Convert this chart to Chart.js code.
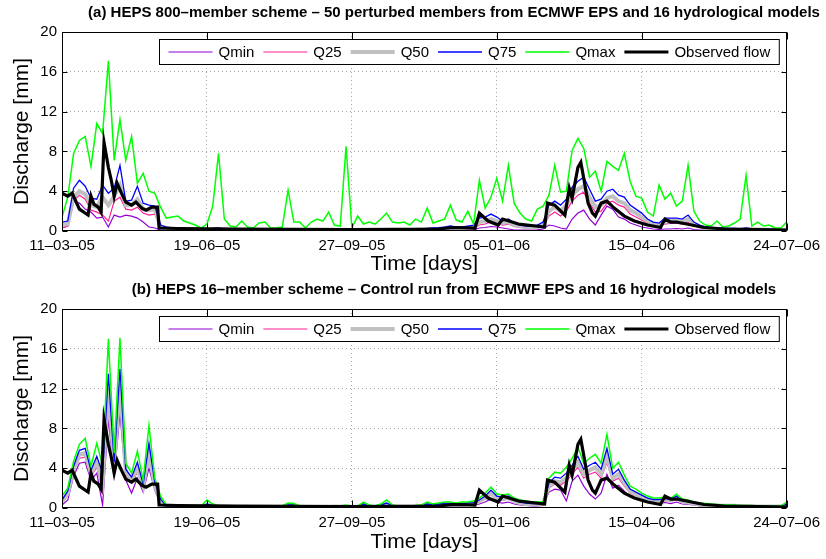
<!DOCTYPE html>
<html lang="en">
<head>
  <meta charset="UTF-8" />
  <title>HEPS discharge ensembles</title>
  <script src="https://cdn.jsdelivr.net/npm/chart.js@4.4.1/dist/chart.umd.min.js"></script>
  <style>
    * { margin: 0; padding: 0; }
    body { background: #fff; width: 826px; height: 559px; overflow: hidden; }
    canvas { display: block; }
  </style>
</head>
<body>
  <canvas id="chartA" width="826" height="277"></canvas>
  <canvas id="chartB" width="826" height="282"></canvas>

  <script>
    // ---- data -------------------------------------------------------
    const titleA = '(a) HEPS 800–member scheme – 50 perturbed members from ECMWF EPS and 16 hydrological models';
    const titleB = '(b) HEPS 16–member scheme – Control run from ECMWF EPS and 16 hydrological models';
    const seriesNames = ['Qmin', 'Q25', 'Q50', 'Q75', 'Qmax', 'Observed flow'];
    const tickDays = [0, 100, 200, 300, 400, 500];
    const dateTicks = ['11–03–05', '19–06–05', '27–09–05', '05–01–06', '15–04–06', '24–07–06'];
    const yTicks = [0, 4, 8, 12, 16, 20];
    const STEP = 4; // days between ensemble values (day 0 = 11-03-05)

    // observed flow (same in both panels), irregular days
    const obsDays = [0,4,7,12,18,20,22,25,27,29, 32,34,36,38,41,44,48,51,55,58,
      62,66,67,80,120,200,260,270,285,288, 294,301,304,315,333,335,340,347,350,352,
      356,358,360,363,366,368,372,376,381,388, 395,404,413,416,420,424,431,443,457,480, 500];
    const obsVals = [3.8,3.5,3.8,2.2,1.6,3.5,2.7,2.4,1.9,8.9, 6.4,5.1,3.5,4.8,3.8,2.9,2.6,2.9,2.3,2.1,
      2.4,2.4,0.3,0.25,0.2,0.15,0.2,0.35,0.3,1.8, 1.0,0.6,1.2,0.7,0.4,2.8,2.6,1.6,4.3,3.3,
      6.4,6.9,5.3,2.8,1.8,1.5,2.8,3.0,2.3,1.5, 1.0,0.6,0.35,1.2,0.9,0.9,0.7,0.35,0.2,0.15, 0.1];

    // panel (a): 800-member scheme
    const qminA = [0.3,0.5,3.0,2.8,2.2,1.9,1.3,1.4,0.4,1.6, 1.4,1.6,1.5,1.3,0.9,0.4,0.3,0.1,0.05,0.05,
      0.04,0.04,0.03,0.03,0.03,0.03,0.03,0.04,0.03,0.03, 0.02,0.02,0.02,0.02,0.02,0.02,0.02,0.02,0.02,0.02,
      0.02,0.02,0.02,0.02,0.02,0.02,0.02,0.02,0.02,0.03, 0.02,0.02,0.02,0.02,0.02,0.02,0.02,0.02,0.02,0.02,
      0.03,0.03,0.04,0.05,0.06,0.07,0.08,0.1,0.08,0.08, 0.1,0.12,0.3,0.35,0.45,0.4,0.3,0.2,0.1,0.08,
      0.1,0.1,0.12,0.2,0.6,0.5,0.3,0.2,1.2,1.8, 2.1,1.2,0.6,1.6,2.5,2.2,1.4,1.2,0.8,0.6,
      0.4,0.3,0.2,0.15,0.2,0.2,0.25,0.2,0.3,0.15, 0.1,0.08,0.06,0.05,0.05,0.05,0.04,0.04,0.05,0.04,
      0.04,0.03,0.03,0.03,0.03,0.03];
    const q25A = [0.3,0.5,3.0,3.6,3.2,2.1,1.9,1.6,1.0,3.0, 3.4,2.2,2.1,2.4,1.8,1.6,1.7,0.3,0.2,0.15,
      0.15,0.12,0.1,0.1,0.08,0.08,0.1,0.12,0.1,0.08, 0.07,0.07,0.06,0.06,0.06,0.06,0.06,0.06,0.06,0.07,
      0.06,0.06,0.06,0.06,0.06,0.06,0.06,0.06,0.06,0.08, 0.06,0.06,0.06,0.06,0.06,0.06,0.06,0.06,0.06,0.06,
      0.07,0.08,0.1,0.12,0.14,0.16,0.2,0.25,0.2,0.2, 0.25,0.3,0.6,0.7,0.9,0.8,0.6,0.7,0.45,0.35,
      0.3,0.25,0.3,0.45,1.5,1.9,1.5,2.0,3.0,3.6, 3.9,2.8,1.9,2.0,2.8,3.0,2.6,2.4,1.7,1.4,
      1.1,0.8,0.55,0.5,0.7,0.8,0.8,0.7,0.9,0.5, 0.35,0.25,0.2,0.15,0.15,0.12,0.12,0.1,0.12,0.1,
      0.1,0.08,0.08,0.08,0.07,0.07];
    const q50A = [0.6,0.7,3.4,4.0,3.7,2.6,2.4,3.4,2.6,3.5, 4.6,2.6,2.6,3.2,2.2,2.1,2.2,0.4,0.3,0.2,
      0.2,0.18,0.15,0.15,0.12,0.12,0.15,0.2,0.15,0.12, 0.1,0.1,0.1,0.08,0.08,0.08,0.08,0.08,0.08,0.1,
      0.08,0.08,0.08,0.08,0.08,0.08,0.08,0.08,0.08,0.12, 0.08,0.08,0.08,0.08,0.08,0.08,0.08,0.08,0.08,0.08,
      0.1,0.12,0.15,0.18,0.2,0.22,0.3,0.35,0.3,0.3, 0.35,0.4,0.9,1.0,1.2,1.0,0.8,0.9,0.6,0.5,
      0.4,0.35,0.4,0.6,2.0,2.4,2.0,2.6,3.6,4.2, 4.5,3.4,2.4,2.6,3.3,3.5,3.0,2.8,2.1,1.8,
      1.4,1.0,0.7,0.6,0.9,1.0,1.0,0.9,1.2,0.7, 0.45,0.3,0.25,0.2,0.2,0.18,0.18,0.15,0.2,0.15,
      0.15,0.12,0.12,0.12,0.1,0.1];
    const q75A = [0.9,1.0,4.3,5.1,4.5,3.3,3.2,4.6,3.8,4.3, 6.6,3.0,3.1,4.5,2.8,2.6,2.5,0.6,0.4,0.3,
      0.3,0.25,0.2,0.2,0.15,0.15,0.25,0.3,0.2,0.15, 0.15,0.12,0.12,0.1,0.1,0.1,0.1,0.1,0.1,0.15,
      0.1,0.1,0.1,0.1,0.1,0.1,0.12,0.1,0.1,0.2, 0.1,0.1,0.1,0.1,0.1,0.1,0.12,0.12,0.12,0.12,
      0.12,0.15,0.2,0.25,0.3,0.3,0.4,0.5,0.4,0.4, 0.5,0.6,1.3,1.4,1.7,1.4,1.0,1.2,0.8,0.6,
      0.5,0.5,0.6,0.9,2.6,3.0,2.6,3.2,4.4,5.0, 5.4,4.2,3.0,3.2,4.0,4.2,3.6,3.4,2.6,2.2,
      1.8,1.2,0.9,0.8,1.3,1.3,1.3,1.2,1.6,0.9, 0.6,0.4,0.35,0.3,0.3,0.25,0.25,0.2,0.3,0.2,
      0.2,0.15,0.15,0.15,0.12,0.12];
    const qmaxA = [1.4,3.4,7.8,9.1,9.5,6.5,10.8,9.8,17.1,7.1, 11.2,7.1,9.5,4.8,5.8,4.0,3.8,2.4,1.3,1.4,
      1.5,1.0,0.8,0.6,0.3,0.7,2.5,7.8,1.2,0.5, 0.4,1.0,0.4,0.3,0.8,0.9,0.3,0.3,0.4,4.1,
      0.9,0.9,0.3,0.9,1.2,1.0,1.9,0.6,0.5,8.5, 0.3,1.5,0.7,0.9,0.7,1.2,1.8,0.9,0.8,0.9,
      0.6,1.2,0.9,2.3,0.8,1.0,1.2,2.6,1.1,0.9, 2.0,0.7,5.1,2.3,3.4,5.3,3.0,6.6,2.8,1.8,
      1.2,1.0,2.2,2.5,3.6,6.6,3.9,4.0,8.1,9.3, 8.3,5.4,6.0,4.0,7.0,6.5,6.1,7.8,5.0,3.5,
      3.3,1.9,1.5,4.6,3.2,3.8,2.5,3.0,6.6,2.0, 1.0,0.6,0.5,1.0,0.4,0.5,0.8,1.2,5.6,0.5,
      0.9,0.5,0.6,0.3,0.3,0.9];

    // panel (b): 16-member scheme
    const qminB = [0.3,0.8,3.2,4.5,4.6,2.8,3.5,0.3,9.0,3.2, 9.5,2.8,1.5,3.0,1.6,4.0,1.8,0.4,0.1,0.1,
      0.08,0.07,0.07,0.07,0.07,0.15,0.1,0.07,0.07,0.05, 0.05,0.05,0.05,0.05,0.05,0.05,0.05,0.05,0.06,0.1,
      0.1,0.06,0.05,0.05,0.05,0.05,0.05,0.06,0.06,0.08, 0.06,0.06,0.15,0.08,0.06,0.1,0.15,0.08,0.06,0.06,
      0.06,0.08,0.1,0.15,0.12,0.15,0.2,0.2,0.15,0.2, 0.25,0.3,0.4,0.6,0.9,0.6,0.5,0.6,0.4,0.3,
      0.25,0.2,0.2,0.25,1.6,1.9,1.8,0.7,2.7,3.3, 2.2,1.4,0.9,1.5,3.4,2.0,2.3,1.7,1.1,0.9,
      0.7,0.55,0.45,0.45,0.55,0.45,0.6,0.4,0.35,0.3, 0.2,0.18,0.16,0.14,0.13,0.13,0.13,0.1,0.1,0.1,
      0.1,0.1,0.1,0.1,0.1,0.15];
    const q25B = [0.5,1.3,3.6,5.0,5.1,3.2,4.1,1.8,11.0,3.8, 11.5,3.3,2.5,3.6,2.0,5.0,2.1,0.6,0.12,0.12,
      0.11,0.1,0.1,0.1,0.1,0.22,0.15,0.1,0.1,0.08, 0.08,0.08,0.08,0.08,0.08,0.08,0.08,0.08,0.1,0.16,
      0.16,0.1,0.08,0.08,0.08,0.08,0.08,0.1,0.1,0.12, 0.1,0.1,0.22,0.12,0.1,0.16,0.25,0.12,0.1,0.1,
      0.1,0.12,0.16,0.24,0.2,0.25,0.3,0.3,0.25,0.3, 0.35,0.4,0.6,0.9,1.3,0.9,0.8,0.9,0.6,0.45,
      0.35,0.35,0.35,0.4,2.0,2.4,2.3,2.7,3.4,4.1, 3.0,3.4,3.6,3.0,4.6,2.7,3.0,2.2,1.5,1.25,
      1.0,0.8,0.65,0.65,0.75,0.65,0.9,0.55,0.5,0.4, 0.3,0.26,0.24,0.21,0.2,0.2,0.2,0.16,0.16,0.16,
      0.14,0.14,0.14,0.14,0.14,0.22];
    const q50B = [0.6,1.5,3.9,5.4,5.5,3.5,4.6,2.5,12.0,4.2, 12.5,3.6,2.8,4.0,2.2,5.5,2.3,0.7,0.15,0.15,
      0.14,0.12,0.12,0.12,0.12,0.3,0.2,0.12,0.12,0.1, 0.1,0.1,0.1,0.1,0.1,0.1,0.1,0.1,0.12,0.22,
      0.22,0.12,0.1,0.1,0.1,0.1,0.1,0.12,0.12,0.15, 0.12,0.12,0.3,0.15,0.12,0.22,0.35,0.15,0.12,0.12,
      0.12,0.15,0.2,0.3,0.25,0.3,0.35,0.35,0.3,0.35, 0.4,0.45,0.7,1.0,1.5,1.0,0.9,1.0,0.7,0.5,
      0.4,0.4,0.4,0.45,2.2,2.7,2.6,3.0,3.8,4.6, 3.4,3.8,4.1,3.4,5.2,3.0,3.4,2.5,1.7,1.4,
      1.15,0.9,0.75,0.75,0.85,0.75,1.05,0.65,0.55,0.45, 0.35,0.3,0.27,0.24,0.22,0.22,0.22,0.18,0.18,0.18,
      0.16,0.16,0.16,0.16,0.16,0.3];
    const q75B = [0.8,1.7,4.2,5.8,6.0,3.8,5.2,3.5,13.5,4.6, 14.0,3.9,3.1,4.6,2.4,6.5,2.6,0.9,0.2,0.2,
      0.18,0.15,0.15,0.15,0.15,0.4,0.25,0.15,0.15,0.12, 0.12,0.12,0.12,0.12,0.12,0.12,0.12,0.12,0.15,0.3,
      0.3,0.15,0.12,0.12,0.12,0.12,0.12,0.15,0.15,0.2, 0.15,0.15,0.4,0.2,0.15,0.3,0.5,0.2,0.15,0.15,
      0.15,0.2,0.25,0.4,0.3,0.4,0.45,0.45,0.4,0.45, 0.5,0.55,0.8,1.2,1.8,1.2,1.1,1.2,0.8,0.6,
      0.5,0.45,0.45,0.5,2.5,3.1,3.0,3.5,4.3,5.2, 3.9,4.3,4.6,3.9,6.0,3.4,3.9,2.8,1.9,1.6,
      1.3,1.0,0.85,0.85,0.95,0.85,1.2,0.75,0.65,0.5, 0.4,0.35,0.3,0.28,0.25,0.25,0.25,0.2,0.2,0.2,
      0.18,0.18,0.18,0.18,0.18,0.4];
    const qmaxB = [1.2,2.0,4.7,6.4,7.0,4.2,6.5,4.3,17.0,5.5, 17.1,4.5,3.5,5.7,2.8,8.3,3.0,1.2,0.3,0.3,
      0.25,0.2,0.2,0.2,0.2,0.8,0.4,0.2,0.2,0.15, 0.15,0.15,0.15,0.15,0.15,0.15,0.15,0.15,0.2,0.5,
      0.45,0.2,0.15,0.15,0.15,0.15,0.15,0.2,0.2,0.3, 0.2,0.2,0.6,0.3,0.2,0.4,0.8,0.3,0.2,0.2,
      0.2,0.25,0.3,0.6,0.4,0.5,0.6,0.6,0.5,0.6, 0.6,0.7,1.0,1.5,2.1,1.4,1.3,1.4,1.0,0.8,
      0.7,0.6,0.6,0.6,3.0,3.6,3.5,4.1,5.0,6.1, 4.5,5.0,5.4,4.5,7.4,4.0,4.6,3.3,2.2,1.9,
      1.5,1.2,1.0,1.0,1.1,1.0,1.4,0.9,0.8,0.6, 0.5,0.45,0.4,0.35,0.3,0.3,0.3,0.25,0.25,0.25,
      0.2,0.2,0.2,0.2,0.2,0.6];

    // ---- styles -----------------------------------------------------
    const FONT = "'Liberation Sans', Arial, Helvetica, sans-serif";
    const lineStyles = [
      { color: '#9400d3', width: 1.2, order: 5 },  // Qmin
      { color: '#ff1e96', width: 1.2, order: 4 },  // Q25
      { color: '#c0c0c0', width: 4,   order: 3 },  // Q50
      { color: '#0000ff', width: 1.3, order: 2 },  // Q75
      { color: '#00ff00', width: 1.5, order: 1 },  // Qmax
      { color: '#000000', width: 3.2, order: 0 }   // observed
    ];

    Chart.defaults.font.family = FONT;
    Chart.defaults.color = '#000';

    function toPoints(days, vals) {
      return vals.map((v, i) => ({ x: days[i], y: v }));
    }

    // box, inward ticks, legend and panel title (matlab look)
    const matlabPlugin = {
      id: 'matlabLook',
      afterDraw(chart, args, opts) {
        const { ctx, chartArea: a, scales: { x, y } } = chart;
        const L = Math.round(a.left) + 0.5, R = Math.round(a.right) - 0.5;
        const T = Math.round(a.top) + 0.5, B = Math.round(a.bottom) - 0.5;
        ctx.save();
        ctx.strokeStyle = '#000';
        ctx.lineWidth = 1;
        ctx.setLineDash([]);
        ctx.strokeRect(L, T, R - L, B - T);
        ctx.beginPath();
        tickDays.forEach(d => {
          const px = Math.round(x.getPixelForValue(d)) + 0.5;
          ctx.moveTo(px, B); ctx.lineTo(px, B - 7);
          ctx.moveTo(px, T); ctx.lineTo(px, T + 7);
        });
        yTicks.forEach(v => {
          const py = Math.round(y.getPixelForValue(v)) + 0.5;
          ctx.moveTo(L, py); ctx.lineTo(L + 5, py);
          ctx.moveTo(R, py); ctx.lineTo(R - 5, py);
        });
        ctx.stroke();

        // legend box, one row, right aligned in the plot
        ctx.font = '15px ' + FONT;
        const sample = 44, gapIn = 6, gapOut = 9;
        const ds = chart.data.datasets;
        let w = gapOut;
        ds.forEach(d => { w += sample + gapIn + ctx.measureText(d.label).width + gapOut; });
        const bx = Math.round(a.right - 8 - w) + 0.5, by = Math.round(a.top + 7) + 0.5, bh = 25;
        ctx.fillStyle = '#fff';
        ctx.fillRect(bx, by, w, bh);
        ctx.strokeStyle = '#000';
        ctx.lineWidth = 1;
        ctx.strokeRect(bx, by, w, bh);
        let cx = bx + gapOut;
        const cy = by + bh / 2;
        ds.forEach(d => {
          ctx.beginPath();
          ctx.strokeStyle = d.borderColor;
          ctx.lineWidth = d.borderWidth;
          ctx.moveTo(cx, cy); ctx.lineTo(cx + sample, cy);
          ctx.stroke();
          cx += sample + gapIn;
          ctx.fillStyle = '#000';
          ctx.textAlign = 'left';
          ctx.textBaseline = 'middle';
          ctx.fillText(d.label, cx, cy + 1);
          cx += ctx.measureText(d.label).width + gapOut;
        });

        // panel title
        ctx.font = 'bold 15px ' + FONT;
        ctx.textAlign = 'center';
        ctx.textBaseline = 'middle';
        ctx.fillStyle = '#000';
        ctx.fillText(opts.text, 454, opts.y);
        ctx.restore();
      }
    };

    function gridColor(c, max) {
      const v = c.tick.value;
      return (v === 0 || v === max) ? 'rgba(0,0,0,0)' : '#a8a8a8';
    }

    function makeChart(id, title, titleY, series, xTitlePad) {
      const datasets = series.map((vals, i) => ({
        label: seriesNames[i],
        data: i === 5 ? toPoints(obsDays, vals) : toPoints(vals.map((_, k) => k * STEP), vals),
        borderColor: lineStyles[i].color,
        borderWidth: lineStyles[i].width,
        order: lineStyles[i].order,
        pointRadius: 0,
        tension: 0,
        fill: false
      }));
      return new Chart(document.getElementById(id), {
        type: 'line',
        data: { datasets },
        plugins: [matlabPlugin],
        options: {
          responsive: false,
          animation: false,
          devicePixelRatio: 1,
          layout: { padding: { left: 0, right: 36, top: 32, bottom: 0 } },
          plugins: {
            legend: { display: false },
            tooltip: { enabled: false },
            matlabLook: { text: title, y: titleY }
          },
          scales: {
            x: {
              type: 'linear', min: 0, max: 500,
              afterBuildTicks: s => { s.ticks = tickDays.map(v => ({ value: v })); },
              afterFit: s => { s.height = s.chart.height - 32 - 199; },
              ticks: {
                padding: 6, maxRotation: 0, autoSkip: false,
                font: { size: 15 },
                callback: v => dateTicks[tickDays.indexOf(v)]
              },
              grid: { drawTicks: false, lineWidth: 1, color: c => gridColor(c, 500) },
              border: { display: false, dash: [1, 3] },
              title: { display: true, text: 'Time [days]', font: { size: 21 }, padding: { top: 0, bottom: xTitlePad } }
            },
            y: {
              min: 0, max: 20,
              afterBuildTicks: s => { s.ticks = yTicks.map(v => ({ value: v })); },
              afterFit: s => { s.width = 62; },
              ticks: { padding: 5, font: { size: 15 } },
              grid: { drawTicks: false, lineWidth: 1, color: c => gridColor(c, 20) },
              border: { display: false, dash: [1, 3] },
              title: { display: true, text: 'Discharge [mm]', font: { size: 21 }, padding: { top: 10, bottom: 0 } }
            }
          }
        }
      });
    }

    makeChart('chartA', titleA, 13, [qminA, q25A, q50A, q75A, qmaxA, obsVals], 0);
    makeChart('chartB', titleB, 13, [qminB, q25B, q50B, q75B, qmaxB, obsVals], 4);
  </script>
</body>
</html>
